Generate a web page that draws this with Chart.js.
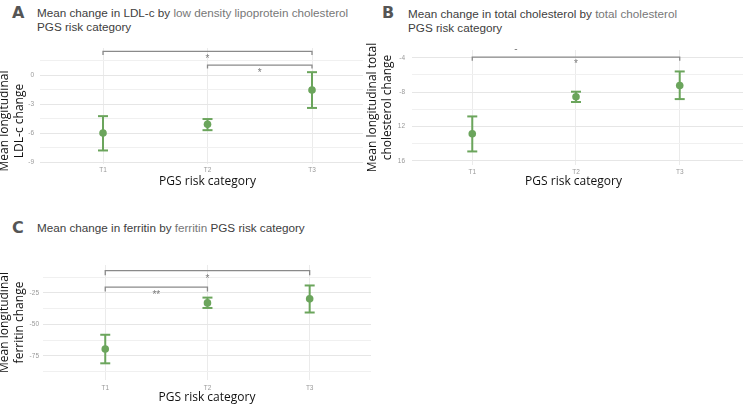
<!DOCTYPE html>
<html>
<head>
<meta charset="utf-8">
<script src="https://cdn.jsdelivr.net/npm/chart.js@4.4.1/dist/chart.umd.min.js"></script>
<style>
  body { margin: 0; background: #fff; }
  #wrap { position: relative; width: 750px; height: 405px; overflow: hidden; font-family: "Liberation Sans", Arial, sans-serif; }
  .letter { position: absolute; font-family: "DejaVu Sans", sans-serif; font-weight: bold; font-size: 16px; line-height: 16px; color: #555; }
  .title { position: absolute; font-size: 11.7px; line-height: 14.4px; color: #404040; white-space: nowrap; }
  .title span { color: #777; }
  canvas { position: absolute; }
</style>
</head>
<body>
<div id="wrap">
  <div class="letter" style="left:12px;top:5px">A</div>
  <div class="title" style="left:37px;top:6px">Mean change in LDL-c by <span>low density lipoprotein cholesterol</span><br>PGS risk category</div>
  <div class="letter" style="left:382px;top:5px">B</div>
  <div class="title" style="left:408px;top:7px">Mean change in total cholesterol by <span>total cholesterol</span><br>PGS risk category</div>
  <div class="letter" style="left:12px;top:220px">C</div>
  <div class="title" style="left:37px;top:221px">Mean change in ferritin by <span>ferritin</span> PGS risk category</div>
  <canvas id="chartA" width="378" height="151" style="left:-3px;top:38px"></canvas>
  <canvas id="chartB" width="385" height="151" style="left:365px;top:38px"></canvas>
  <canvas id="chartC" width="381" height="150" style="left:-3px;top:255px"></canvas>
</div>
<script>
const categories = ['T1', 'T2', 'T3'];

// A: LDL-c
const ldlMean = [-6.0, -5.1, -1.55];
const ldlLower = [-7.8, -5.7, -3.4];
const ldlUpper = [-4.25, -4.55, 0.3];
const ldlTicks = [-9, -6, -3, 0];
const ldlTickLabels = ['-9', '-6', '-3', '0'];
// [from, to, bar level, end of the drops]
const ldlBrackets = [[1, 3, 2.45, 2.07], [2, 3, 1.03, 0.69]];
const ldlStars = [['*', 2, 1.86], ['*', 2.5, 0.41]];

// B: total cholesterol
const cholMean = [-12.86, -8.55, -7.23];
const cholLower = [-14.92, -9.16, -8.82];
const cholUpper = [-10.84, -7.96, -5.6];
const cholTicks = [-16, -12, -8, -4];
const cholTickLabels = ['16', '12', '-8', '-4'];
const cholBrackets = [[1, 3, -3.92, -4.35]];
const cholStars = [['*', 2, -4.58], ['-', 1.42, -2.8]];

// C: ferritin
const ferMean = [-69.5, -33.0, -29.8];
const ferLower = [-80.8, -37.0, -40.6];
const ferUpper = [-58.2, -28.8, -19.2];
const ferTicks = [-75, -50, -25];
const ferTickLabels = ['-75', '-50', '-25'];
const ferBrackets = [[1, 3, -7.45, -11.2], [1, 2, -20.5, -24]];
const ferStars = [['*', 2, -12.4], ['**', 1.5, -25.2]];

const GREEN = '#6ba55c';

function whiskerPoints(lo, hi) {
  const pts = [];
  lo.forEach((v, i) => {
    pts.push({x: i + 1, y: v}, {x: i + 1, y: hi[i]}, {x: i + 1, y: null});
  });
  return pts;
}

function bracketPoints(list) {
  const pts = [];
  list.forEach(([a, b, top, end]) => {
    pts.push({x: a, y: end}, {x: a, y: top}, {x: b, y: top}, {x: b, y: end}, {x: b, y: null});
  });
  return pts;
}

// significance marks, placed through the scales
const sigText = {
  id: 'sigText',
  afterDatasetsDraw(chart, args, opts) {
    const {ctx, scales: {x, y}} = chart;
    ctx.save();
    ctx.fillStyle = '#7a7a7a';
    ctx.font = '10px "Liberation Sans"';
    ctx.textAlign = 'center';
    ctx.textBaseline = 'middle';
    (opts.labels || []).forEach(([t, vx, vy]) => {
      ctx.fillText(t, x.getPixelForValue(vx), y.getPixelForValue(vy) + 2);
    });
    ctx.restore();
  }
};

// ggplot centres the axis titles a bit differently, move them only
const nudgeTitles = {
  id: 'nudgeTitles',
  afterLayout(chart, args, opts) {
    const {x, y} = chart.scales;
    x.left += opts.dx || 0;
    x.right += opts.dx || 0;
    y.top += opts.dy || 0;
    y.bottom += opts.dy || 0;
  }
};

function drawPanel(id, p) {
  const min = p.yMin, max = p.yMax;
  const step = (p.ticks[1] - p.ticks[0]) / 2;
  const gridValues = [];
  for (let v = p.ticks[0] - 4 * step; v <= max; v += step) {
    if (v >= min) gridValues.push(v);
  }
  const tickFont = {family: 'Liberation Sans', size: 6.5};
  const titleFont = {family: 'Open Sans', size: 12, lineHeight: 1.25};

  new Chart(document.getElementById(id), {
    type: 'scatter',
    data: {
      datasets: [
        {
          data: p.mean.map((v, i) => ({x: i + 1, y: v})),
          clip: false,
          pointRadius: 3.8,
          backgroundColor: GREEN,
          pointBorderWidth: 0
        },
        {
          data: whiskerPoints(p.lower, p.upper),
          clip: false,
          showLine: true,
          spanGaps: false,
          borderColor: GREEN,
          borderWidth: 2,
          pointStyle: 'line',
          pointRadius: 5,
          pointBorderColor: GREEN,
          pointBorderWidth: 2
        },
        {
          data: bracketPoints(p.brackets),
          clip: false,
          showLine: true,
          spanGaps: false,
          borderColor: '#8a8a8a',
          borderWidth: 1.3,
          pointRadius: 0
        }
      ]
    },
    options: {
      responsive: false,
      animation: false,
      events: [],
      layout: {padding: p.pad},
      plugins: {
        legend: {display: false},
        tooltip: {enabled: false},
        sigText: {labels: p.stars},
        nudgeTitles: {dx: p.dx, dy: p.dy}
      },
      scales: {
        x: {
          type: 'linear',
          min: p.xMin,
          max: p.xMax,
          afterFit: (s) => { s.height = p.xh; },
          afterBuildTicks: (s) => { s.ticks = categories.map((c, i) => ({value: i + 1})); },
          border: {display: false},
          grid: {color: '#ebebeb', lineWidth: 1, drawTicks: false},
          ticks: {
            autoSkip: false, maxRotation: 0, padding: p.xPad,
            color: '#999', font: tickFont,
            callback: (v) => categories[v - 1]
          },
          title: {display: true, text: 'PGS risk category', color: '#111', font: titleFont, padding: 0}
        },
        y: {
          min: min,
          max: max,
          afterFit: (s) => { s.width = p.yw; },
          afterBuildTicks: (s) => { s.ticks = gridValues.map((v) => ({value: v})); },
          border: {display: false},
          grid: {
            drawTicks: false,
            lineWidth: 1,
            color: (c) => (c.tick && p.ticks.includes(c.tick.value)) ? '#e6e6e6' : '#f0f0f0'
          },
          ticks: {
            autoSkip: false, padding: p.yPad,
            color: '#999', font: tickFont,
            callback: (v) => {
              const i = p.ticks.indexOf(v);
              return i >= 0 ? p.tickLabels[i] : '';
            }
          },
          title: {display: true, text: p.yTitle, color: '#111', font: titleFont, padding: 0}
        }
      }
    },
    plugins: [sigText, nudgeTitles]
  });
}

drawPanel('chartA', {
  mean: ldlMean, lower: ldlLower, upper: ldlUpper,
  ticks: ldlTicks, tickLabels: ldlTickLabels,
  brackets: ldlBrackets, stars: ldlStars,
  yTitle: ['Mean longitudinal', 'LDL-c change'],
  yMin: -9.2, yMax: 2.8, xMin: 0.397, xMax: 3.488,
  pad: {top: 10, right: 12, left: 0, bottom: 0},
  yw: 43, xh: 25, xPad: 2, yPad: 6, dx: 6, dy: 15
});

drawPanel('chartB', {
  mean: cholMean, lower: cholLower, upper: cholUpper,
  ticks: cholTicks, tickLabels: cholTickLabels,
  brackets: cholBrackets, stars: cholStars,
  yTitle: ['Mean longitudinal total', 'cholesterol change'],
  yMin: -16.5, yMax: -3.1, xMin: 0.419, xMax: 3.61,
  pad: {top: 12, right: 3, left: 0, bottom: 0},
  yw: 47, xh: 24, xPad: 3, yPad: 7, dx: -4, dy: 0
});

drawPanel('chartC', {
  mean: ferMean, lower: ferLower, upper: ferUpper,
  ticks: ferTicks, tickLabels: ferTickLabels,
  brackets: ferBrackets, stars: ferStars,
  yTitle: ['Mean longitudinal', 'ferritin change'],
  yMin: -94, yMax: -3, xMin: 0.391, xMax: 3.6,
  pad: {top: 10, right: 3, left: 0, bottom: 0},
  yw: 46, xh: 25, xPad: 4, yPad: 4, dx: 0, dy: 0
});
</script>
</body>
</html>
